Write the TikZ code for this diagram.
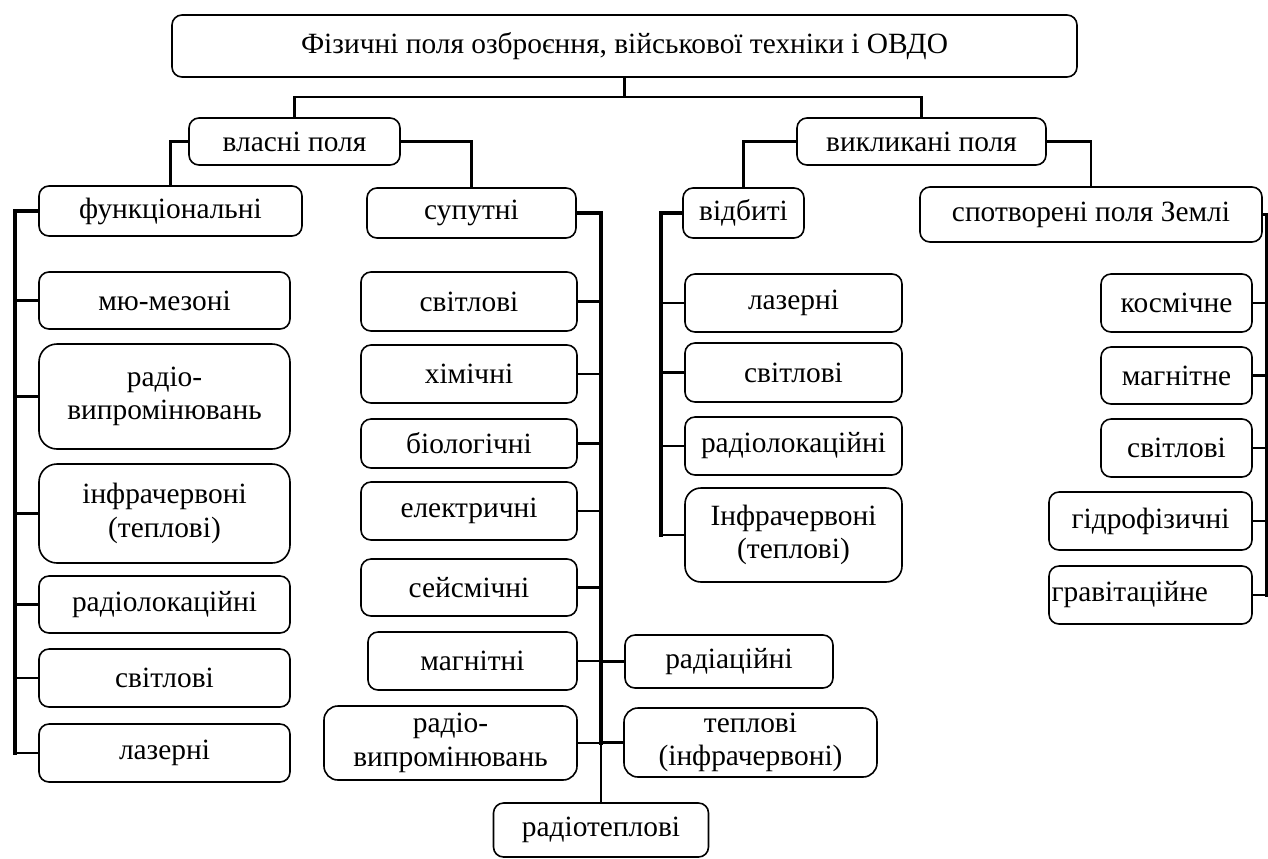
\documentclass[tikz,border=0pt]{standalone}
\usepackage{fontspec}
\setmainfont{Liberation Serif}
\begin{document}
\begin{tikzpicture}[x=0.5pt,y=-0.5pt,
  fbox/.style={draw,rounded corners=5pt,line width=0.8pt,inner sep=0pt,align=center,font=\fontsize{14.7}{16.8}\selectfont},
  link/.style={line width=1.1pt},
  bus/.style={line width=1.6pt,line cap=rect},
  mainbus/.style={line width=2.2pt,line cap=rect}]
\useasboundingbox (0,0) rectangle (1268,858);

\node[fbox,minimum width=452.5pt,minimum height=31pt] (top) at (624.5,46) {Фізичні поля озброєння, військової техніки і ОВДО};
\node[fbox,minimum width=105.5pt,minimum height=23.5pt] (own) at (294.5,141.5) {власні поля};
\node[fbox,minimum width=124.5pt,minimum height=23.5pt] (ind) at (921.5,141.5) {викликані поля};
\node[fbox,minimum width=131.5pt,minimum height=25pt] (fun) at (170.5,211) {функціональні};
\node[fbox,minimum width=104.5pt,minimum height=25pt] (sup) at (471.5,213) {супутні};
\node[fbox,minimum width=60.5pt,minimum height=25pt] (refl) at (743.5,213) {відбиті};
\node[fbox,minimum width=171pt,minimum height=27.5pt] (dist) at (1091,214.5) {спотворені поля Землі};

% функціональні
\node[fbox,minimum width=125.5pt,minimum height=28.5pt] (f1) at (164.5,300.5) {мю-мезоні};
\node[fbox,minimum width=125.5pt,minimum height=52.5pt,rounded corners=9pt] (f2) at (164.5,396.5) {радіо-\\випромінювань};
\node[fbox,minimum width=125.5pt,minimum height=49.5pt,rounded corners=9pt] (f3) at (164.5,513.5) {інфрачервоні\\(теплові)};
\node[fbox,minimum width=125.5pt,minimum height=28.5pt] (f4) at (164.5,604.5) {радіолокаційні};
\node[fbox,minimum width=125.5pt,minimum height=29pt] (f5) at (164.5,678) {світлові};
\node[fbox,minimum width=125.5pt,minimum height=29pt] (f6) at (164.5,753) {лазерні};

% супутні
\node[fbox,minimum width=108pt,minimum height=29.5pt] (s1) at (469,301.5) {світлові};
\node[fbox,minimum width=108pt,minimum height=29pt] (s2) at (469,374) {хімічні};
\node[fbox,minimum width=108pt,minimum height=24.5pt] (s3) at (469,443.5) {біологічні};
\node[fbox,minimum width=108pt,minimum height=29pt] (s4) at (469,511) {електричні};
\node[fbox,minimum width=108pt,minimum height=28.5pt] (s5) at (469,587.5) {сейсмічні};
\node[fbox,minimum width=104.5pt,minimum height=29pt] (s6) at (472.5,661) {магнітні};
\node[fbox,minimum width=126.5pt,minimum height=37pt,rounded corners=7pt] (s7) at (450.5,743) {радіо-\\випромінювань};
\node[fbox,minimum width=104pt,minimum height=26.5pt] (s8) at (729,661.5) {радіаційні};
\node[fbox,minimum width=126.5pt,minimum height=34.5pt,rounded corners=7pt] (s9) at (750.5,742.5) {теплові\\(інфрачервоні)};
\node[fbox,minimum width=107.5pt,minimum height=27pt] (rt) at (601,830) {радіотеплові};

% відбиті
\node[fbox,minimum width=108.5pt,minimum height=29pt] (r1) at (793.5,303) {лазерні};
\node[fbox,minimum width=108.5pt,minimum height=29.5pt] (r2) at (793.5,372.5) {світлові};
\node[fbox,minimum width=108.5pt,minimum height=29pt] (r3) at (793.5,446) {радіолокаційні};
\node[fbox,minimum width=108.5pt,minimum height=47pt,rounded corners=8pt] (r4) at (793.5,535) {Інфрачервоні\\(теплові)};

% спотворені поля Землі
\node[fbox,minimum width=75.5pt,minimum height=29pt] (d1) at (1176.5,303) {космічне};
\node[fbox,minimum width=75.5pt,minimum height=28.5pt] (d2) at (1176.5,375.5) {магнітне};
\node[fbox,minimum width=75.5pt,minimum height=29pt] (d3) at (1176.5,448) {світлові};
\node[fbox,minimum width=101.5pt,minimum height=29pt] (d4) at (1150.5,521) {гідрофізичні};
\node[fbox,minimum width=101.5pt,minimum height=29pt,text width=99pt,align=left] (d5) at (1150.5,595) {гравітаційне};

% верхні зв'язки
\coordinate (topbar) at (624.5,97);
\draw[link] (top.south) -- (topbar);
\draw[link] (own.north) |- (topbar) -| (ind.north);
\draw[link] (own.west) -| (fun.north);
\draw[link] (own.east) -| (sup.north);
\draw[link] (ind.west) -| (refl.north);
\draw[link] (ind.east) -| (dist.north);

% шина функціональних
\coordinate (funbus) at (15,211);
\draw[bus] (fun.west) -- (funbus) -- (funbus |- f6.west);
\draw[link] (funbus |- f1.west) -- (f1.west);
\draw[link] (funbus |- f2.west) -- (f2.west);
\draw[link] (funbus |- f3.west) -- (f3.west);
\draw[link] (funbus |- f4.west) -- (f4.west);
\draw[link] (funbus |- f5.west) -- (f5.west);
\draw[link] (funbus |- f6.west) -- (f6.west);

% шина супутніх
\coordinate (supbus) at (601,213);
\draw[mainbus] (sup.east) -- (supbus) -- (supbus |- s7.east);
\draw[link] (supbus |- s7.east) -- (rt.north);
\draw[link] (s1.east) -- (supbus |- s1.east);
\draw[link] (s2.east) -- (supbus |- s2.east);
\draw[link] (s3.east) -- (supbus |- s3.east);
\draw[link] (s4.east) -- (supbus |- s4.east);
\draw[link] (s5.east) -- (supbus |- s5.east);
\draw[link] (s6.east) -- (supbus |- s6.east);
\draw[link] (s7.east) -- (supbus |- s7.east);
\draw[link] (supbus |- s8.west) -- (s8.west);
\draw[link] (supbus |- s9.west) -- (s9.west);

% шина відбитих
\coordinate (reflbus) at (661,213);
\draw[bus] (refl.west) -- (reflbus) -- (reflbus |- r4.west);
\draw[link] (reflbus |- r1.west) -- (r1.west);
\draw[link] (reflbus |- r2.west) -- (r2.west);
\draw[link] (reflbus |- r3.west) -- (r3.west);
\draw[link] (reflbus |- r4.west) -- (r4.west);

% шина спотворених
\coordinate (distbus) at (1267,214.5);
\draw[bus] (dist.east) -- (distbus) -- (distbus |- d5.east);
\draw[link] (d1.east) -- (distbus |- d1.east);
\draw[link] (d2.east) -- (distbus |- d2.east);
\draw[link] (d3.east) -- (distbus |- d3.east);
\draw[link] (d4.east) -- (distbus |- d4.east);
\draw[link] (d5.east) -- (distbus |- d5.east);

\end{tikzpicture}
\end{document}
